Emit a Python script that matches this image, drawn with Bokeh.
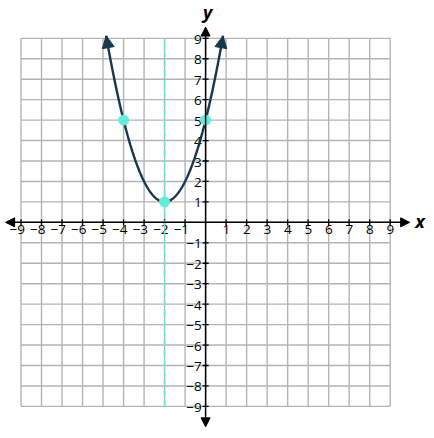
import numpy as np
from bokeh.plotting import figure
from bokeh.models import Arrow, NormalHead
from bokeh.core.properties import value
from bokeh.embed import file_html
from bokeh.resources import INLINE

# ---- data ----
grid_vals = list(range(-9, 10))
tick_vals = [-9, -8, -7, -6, -5, -4, -3, -2, -1, 1, 2, 3, 4, 5, 6, 7, 8, 9]
tick_labels = ["\u22129", "\u22128", "\u22127", "\u22126", "\u22125", "\u22124", "\u22123", "\u22122", "\u22121",
               "1", "2", "3", "4", "5", "6", "7", "8", "9"]
# parabola y = a x^2 + b x + c
coef_a, coef_b, coef_c = 1, 4, 5
curve_x_start, curve_x_end = -4.85, 0.85
points_x = [-4, -2, 0]
points_y = [5, 1, 5]
axis_of_symmetry_x = -2

FONT = "Open Sans"
CURVE = "#17374d"
AQUA = "#62ecda"

p = figure(width=426, height=430, x_range=(-10.0, 10.77), y_range=(-10.18, 10.85),
           x_axis_location=None, y_axis_location=None, toolbar_location=None,
           output_backend="svg", min_border=0)
p.grid.visible = False
p.outline_line_color = None
p.background_fill_color = "white"
p.border_fill_color = "white"

gmin, gmax = grid_vals[0], grid_vals[-1]
# grid
p.segment(x0=grid_vals, x1=grid_vals, y0=[gmin] * len(grid_vals), y1=[gmax] * len(grid_vals),
          line_color="#b4b4b4", line_width=1.4)
p.segment(x0=[gmin] * len(grid_vals), x1=[gmax] * len(grid_vals), y0=grid_vals, y1=grid_vals,
          line_color="#b4b4b4", line_width=1.4)

# axes with arrows
head = lambda: NormalHead(size=9, fill_color="black", line_color="black", line_width=1)
p.add_layout(Arrow(start=head(), end=head(), x_start=-9.75, y_start=0, x_end=9.95, y_end=0,
                   line_color="black", line_width=1.5))
p.add_layout(Arrow(start=head(), end=head(), x_start=0, y_start=-10.0, x_end=0, y_end=9.55,
                   line_color="black", line_width=1.5))

# tick marks
tl = 0.15
p.segment(x0=tick_vals, x1=tick_vals, y0=[-tl] * len(tick_vals), y1=[tl] * len(tick_vals),
          line_color="black", line_width=1.3)
p.segment(x0=[-tl] * len(tick_vals), x1=[tl] * len(tick_vals), y0=tick_vals, y1=tick_vals,
          line_color="black", line_width=1.3)

# tick labels
p.text(x=tick_vals, y=[0] * len(tick_vals), text=tick_labels, text_font=value(FONT),
       text_font_size="13.5px", text_align="right", text_baseline="top", x_offset=4, y_offset=3,
       text_color="black")
p.text(x=[0] * len(tick_vals), y=tick_vals, text=tick_labels, text_font=value(FONT),
       text_font_size="13.5px", text_align="right", text_baseline="middle", x_offset=-4, y_offset=1,
       text_color="black")

# axis names
p.text(x=[10.45], y=[0], text=["x"], text_font=value(FONT), text_font_size="18px",
       text_font_style="bold italic", text_align="center", text_baseline="middle", y_offset=-1)
p.text(x=[0], y=[10.3], text=["y"], text_font=value(FONT), text_font_size="18px",
       text_font_style="bold italic", text_align="center", text_baseline="middle", x_offset=2)

# axis of symmetry
p.line(x=[axis_of_symmetry_x, axis_of_symmetry_x], y=[gmin, gmax], line_color=AQUA,
       line_width=1.6, line_dash="6 4")

# parabola
cx = np.linspace(curve_x_start, curve_x_end, 300)
cy = coef_a * cx ** 2 + coef_b * cx + coef_c
p.line(x=cx, y=cy, line_color=CURVE, line_width=2.4)
for xe, xs in ((curve_x_start, curve_x_start + 0.1), (curve_x_end, curve_x_end - 0.1)):
    ye = coef_a * xe ** 2 + coef_b * xe + coef_c
    ys = coef_a * xs ** 2 + coef_b * xs + coef_c
    p.add_layout(Arrow(end=NormalHead(size=12, fill_color=CURVE, line_color=CURVE, line_width=1),
                       x_start=xs, y_start=ys, x_end=xe, y_end=ye, line_alpha=0))

# points
p.scatter(x=points_x, y=points_y, size=10, fill_color=AQUA, line_color=AQUA)

open("out.html", "w").write(file_html(p, INLINE))
